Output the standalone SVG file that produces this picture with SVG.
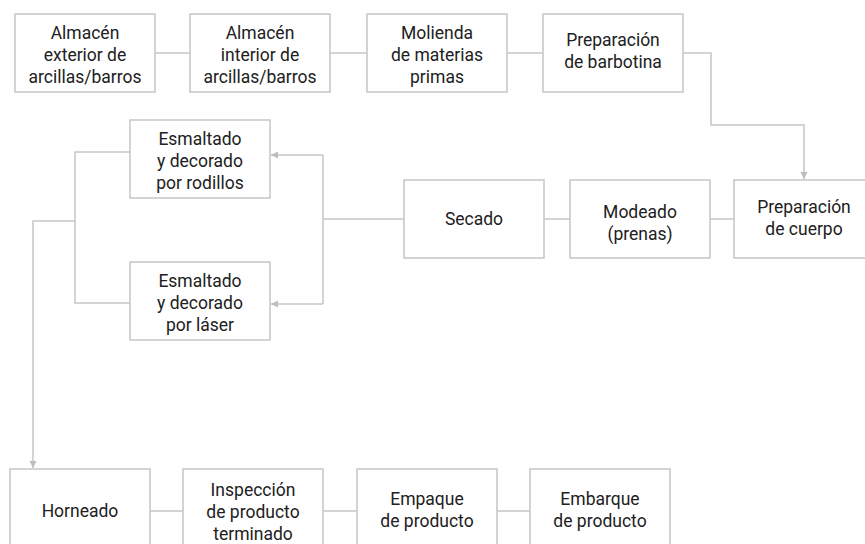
<svg xmlns="http://www.w3.org/2000/svg" width="865" height="544" viewBox="0 0 865 544">
<defs>
<style>
.b{fill:#fff;stroke:#c6c6c6;stroke-width:1.5}
.t{font-family:Roboto,"Liberation Sans",sans-serif;font-size:17.5px;fill:#212121;text-anchor:middle}
.c{fill:none;stroke:#c6c6c6;stroke-width:1.5}
</style>
<marker id="a" markerWidth="8" markerHeight="8" refX="7" refY="4" orient="auto" markerUnits="userSpaceOnUse">
<path d="M0,0.5 L7,4 L0,7.5 Z" fill="#bdbdbd"/>
</marker>
</defs>
<rect width="865" height="544" fill="#fff"/>
<g id="connectors">
<path class="c" d="M155,53H190"/>
<path class="c" d="M330,53H367"/>
<path class="c" d="M507,53H543"/>
<path class="c" d="M683,53H711V125H804V179" marker-end="url(#a)"/>
<path class="c" d="M544,219H570"/>
<path class="c" d="M710,219H734"/>
<path class="c" d="M404,219H323"/>
<path class="c" d="M323,155V304"/>
<path class="c" d="M323,155H271" marker-end="url(#a)"/>
<path class="c" d="M323,304H271" marker-end="url(#a)"/>
<path class="c" d="M130,152H75V303H130"/>
<path class="c" d="M75,221H33V468" marker-end="url(#a)"/>
<path class="c" d="M150,511H183"/>
<path class="c" d="M323,511H357"/>
<path class="c" d="M497,511H530"/>
</g>
<g id="n1"><rect class="b" x="15" y="14" width="140" height="78"/><text class="t" x="85" y="39">Almacén</text><text class="t" x="85" y="61">exterior de</text><text class="t" x="85" y="83">arcillas/barros</text></g>
<g id="n2"><rect class="b" x="190" y="14" width="140" height="78"/><text class="t" x="260" y="39">Almacén</text><text class="t" x="260" y="61">interior de</text><text class="t" x="260" y="83">arcillas/barros</text></g>
<g id="n3"><rect class="b" x="367" y="14" width="140" height="78"/><text class="t" x="437" y="39">Molienda</text><text class="t" x="437" y="61">de materias</text><text class="t" x="437" y="83">primas</text></g>
<g id="n4"><rect class="b" x="543" y="14" width="140" height="78"/><text class="t" x="613" y="46">Preparación</text><text class="t" x="613" y="68">de barbotina</text></g>
<g id="n5"><rect class="b" x="734" y="180" width="140" height="78"/><text class="t" x="804" y="213">Preparación</text><text class="t" x="804" y="235">de cuerpo</text></g>
<g id="n6"><rect class="b" x="570" y="180" width="140" height="78"/><text class="t" x="640" y="218">Modeado</text><text class="t" x="640" y="240">(prenas)</text></g>
<g id="n7"><rect class="b" x="404" y="180" width="140" height="78"/><text class="t" x="474" y="225">Secado</text></g>
<g id="n8"><rect class="b" x="130" y="120" width="140" height="78"/><text class="t" x="200" y="145">Esmaltado</text><text class="t" x="200" y="167">y decorado</text><text class="t" x="200" y="189">por rodillos</text></g>
<g id="n9"><rect class="b" x="130" y="262" width="140" height="78"/><text class="t" x="200" y="287">Esmaltado</text><text class="t" x="200" y="309">y decorado</text><text class="t" x="200" y="331">por láser</text></g>
<g id="n10"><rect class="b" x="10" y="469" width="140" height="84"/><text class="t" x="80" y="517">Horneado</text></g>
<g id="n11"><rect class="b" x="183" y="469" width="140" height="84"/><text class="t" x="253" y="496">Inspección</text><text class="t" x="253" y="518">de producto</text><text class="t" x="253" y="540">terminado</text></g>
<g id="n12"><rect class="b" x="357" y="469" width="140" height="84"/><text class="t" x="427" y="505">Empaque</text><text class="t" x="427" y="527">de producto</text></g>
<g id="n13"><rect class="b" x="530" y="469" width="140" height="84"/><text class="t" x="600" y="505">Embarque</text><text class="t" x="600" y="527">de producto</text></g>
</svg>
